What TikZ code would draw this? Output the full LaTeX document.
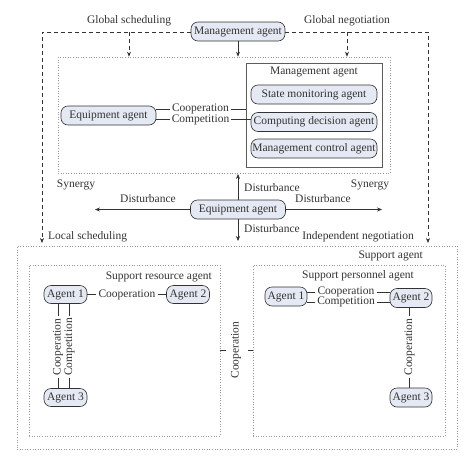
\documentclass[tikz,border=0pt]{standalone}
\usepackage{fontspec}
\setmainfont{Liberation Serif}
\usetikzlibrary{arrows.meta,calc}
\definecolor{ink}{HTML}{333333}
\definecolor{agfill}{HTML}{E4E9F3}
\definecolor{dotc}{HTML}{9A9A9A}
\begin{document}
\begin{tikzpicture}[x=1pt,y=-1pt,
  every node/.style={font=\fontsize{11.5}{13}\selectfont, text=ink},
  agent/.style={draw=ink, fill=agfill, rounded corners=7pt, line width=0.6pt, inner sep=0pt, minimum height=19pt},
  lbl/.style={inner sep=0pt},
  dotbox/.style={draw=dotc, dotted, line width=0.6pt, inner sep=0pt},
  dashln/.style={draw=ink, dashed, dash pattern=on 4pt off 3pt, line width=0.6pt},
  link/.style={draw=ink, line width=0.6pt},
  arr/.style={-{Stealth[length=5pt,width=4pt]}},
]
\useasboundingbox (0,0) rectangle (474,466);

% top
\node[agent, minimum width=94pt] (mtop) at (238,31.5) {Management agent};
\node[lbl] (gs) at (129,21) {Global scheduling};
\node[lbl] (gn) at (347,21) {Global negotiation};

% upper dotted box
\node[dotbox, minimum width=332pt, minimum height=116pt] (ubox) at (224,115) {};
\node[draw=ink!80, line width=0.6pt, inner sep=0pt, minimum width=136pt, minimum height=104pt] (mbox) at (314,115) {};
\node[lbl] (mtitle) at (314,72) {Management agent};
\node[agent, minimum width=126pt] (sma) at (314,94.5) {State monitoring agent};
\node[agent, minimum width=126pt] (cda) at (314,122) {Computing decision agent};
\node[agent, minimum width=126pt] (mca) at (314,148.5) {Management control agent};
\node[agent, minimum width=95pt] (eqa) at (108.5,115.5) {Equipment agent};
\node[lbl] (coop1) at (200.5,109) {Cooperation};
\node[lbl] (comp1) at (200.5,119.5) {Competition};

\draw[link] (coop1.west -| eqa.east) -- ([xshift=-2pt]coop1.west);
\draw[link] ([xshift=2pt]coop1.east) -- (coop1.east -| mbox.west);
\draw[link] (comp1.west -| eqa.east) -- ([xshift=-2pt]comp1.west);
\draw[link] ([xshift=2pt]comp1.east) -- (comp1.east -| cda.west);

% outer dashed
\coordinate (tl) at (42,32);
\coordinate (tr) at (428,32);
\coordinate (bl) at (42,243);
\coordinate (br) at (428,243);
\draw[dashln, arr] (mtop.west |- tl) -- (tl) -- (bl);
\draw[dashln, arr] (mtop.east |- tr) -- (tr) -- (br);
\coordinate (gsa) at (129,32);
\coordinate (gna) at (347,32);
\draw[dashln, arr] (gsa) -- (gsa |- ubox.north) ;
\draw[dashln, arr] (gna) -- (gna |- ubox.north);
\draw[link, arr] (mtop.south) -- (mtop.south |- ubox.north);

% middle
\node[lbl] (syl) at (76,185) {Synergy};
\node[lbl] (syr) at (370,185) {Synergy};
\node[agent, minimum width=95pt] (eqb) at (238,209.5) {Equipment agent};
\coordinate (up) at (238,174);
\coordinate (lt) at (95,209.5);
\coordinate (rt) at (382,209.5);
\coordinate (dn) at (238,241);
\draw[link, arr] (eqb.north) -- (up);
\draw[link, arr] (eqb.west) -- (lt);
\draw[link, arr] (eqb.east) -- (rt);
\draw[link, arr] (eqb.south) -- (dn);
\node[lbl] (du) at (272,188) {Disturbance};
\node[lbl] (dl) at (148,199) {Disturbance};
\node[lbl] (dr) at (323,199) {Disturbance};
\node[lbl] (dd) at (272,229) {Disturbance};
\node[lbl, anchor=west] (ls) at (48,237) {Local scheduling};
\node[lbl, anchor=east] (ing) at (414,237) {Independent negotiation};

% support agent
\node[dotbox, minimum width=440pt, minimum height=203pt] (sbox) at (237,347.5) {};
\node[lbl, anchor=east] (slab) at (423,256) {Support agent};

% support resource agent
\node[dotbox, minimum width=191pt, minimum height=171pt] (srbox) at (124.5,350.5) {};
\node[lbl, anchor=east] (srlab) at (212,277) {Support resource agent};
\node[agent, minimum width=43pt, minimum height=18pt] (a1l) at (65.5,294.5) {Agent 1};
\node[agent, minimum width=43pt, minimum height=18pt] (a2l) at (188,294.5) {Agent 2};
\node[agent, minimum width=43pt, minimum height=18pt] (a3l) at (65.5,397.5) {Agent 3};
\node[lbl] (coopl) at (127,294.5) {Cooperation};
\draw[link] (a1l.east) -- ([xshift=-2pt]coopl.west);
\draw[link] ([xshift=2pt]coopl.east) -- (a2l.west);
\node[lbl, rotate=90] (coopv) at (58,347) {Cooperation};
\node[lbl, rotate=90] (compv) at (69.5,347) {Competition};
\draw[link] (coopv.center |- a1l.south) -- ([yshift=2pt]coopv.east);
\draw[link] ([yshift=-2pt]coopv.west) -- (coopv.center |- a3l.north);
\draw[link] (compv.center |- a1l.south) -- ([yshift=2pt]compv.east);
\draw[link] ([yshift=-2pt]compv.west) -- (compv.center |- a3l.north);

% support personnel agent
\node[dotbox, minimum width=192pt, minimum height=171pt] (spbox) at (349,350.5) {};
\node[lbl] (splab) at (358,276) {Support personnel agent};
\node[agent, minimum width=42pt] (a1r) at (286,296.5) {Agent 1};
\node[agent, minimum width=42pt] (a2r) at (411,298) {Agent 2};
\node[agent, minimum width=42pt] (a3r) at (411,397.5) {Agent 3};
\node[lbl] (coopr) at (346,292) {Cooperation};
\node[lbl] (compr) at (346,302) {Competition};
\draw[link] (coopr.west -| a1r.east) -- ([xshift=-2pt]coopr.west);
\draw[link] ([xshift=2pt]coopr.east) -- (coopr.east -| a2r.west);
\draw[link] (compr.west -| a1r.east) -- ([xshift=-2pt]compr.west);
\draw[link] ([xshift=2pt]compr.east) -- (compr.east -| a2r.west);
\node[lbl, rotate=90] (coopvr) at (409.5,347) {Cooperation};
\draw[link] (a2r.south -| coopvr.center) -- ([yshift=2pt]coopvr.east);
\draw[link] ([yshift=-2pt]coopvr.west) -- (a3r.north -| coopvr.center);

% middle cooperation
\node[lbl, rotate=90] (coopm) at (236,350) {Cooperation};
\draw[link] (srbox.east |- coopm.center) -- ++(6,0);
\draw[link] (spbox.west |- coopm.center) -- ++(-5,0);
\end{tikzpicture}
\end{document}
